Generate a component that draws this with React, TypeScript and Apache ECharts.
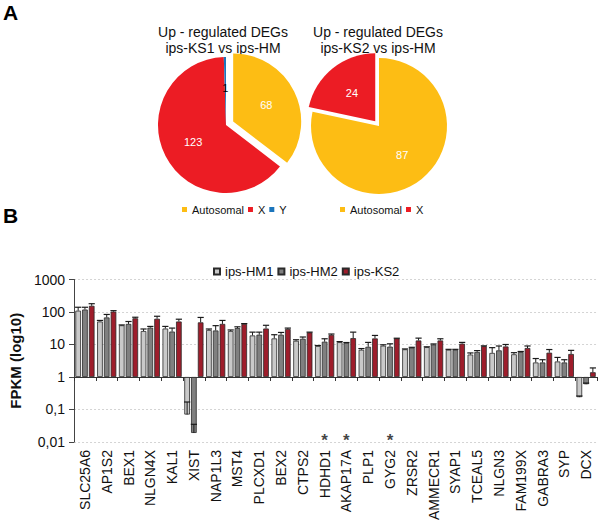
import React, { useEffect, useRef } from 'react';
import * as echarts from 'echarts';

const FONT = '"Liberation Sans", Arial, sans-serif';

// Panel A – pie data
const pie1Names = ['Autosomal', 'X', 'Y'];
const pie1Values = [68, 123, 1];
const pie2Names = ['Autosomal', 'X'];
const pie2Values = [87, 24];
const pieColors: Record<string, string> = { Autosomal: '#fdbd14', X: '#ec1c24', Y: '#1b75bc' };

// Panel B – bar data
const genes = [
  'SLC25A6', 'AP1S2', 'BEX1', 'NLGN4X', 'KAL1', 'XIST', 'NAP1L3', 'MST4', 'PLCXD1', 'BEX2',
  'CTPS2', 'HDHD1', 'AKAP17A', 'PLP1', 'GYG2', 'ZRSR2', 'AMMECR1', 'SYAP1', 'TCEAL5', 'NLGN3',
  'FAM199X', 'GABRA3', 'SYP', 'DCX',
];
const hm1 = [110, 51, 39, 26, 31, 0.07, 28, 26, 19, 15.4, 13, 9, 11.8, 6.9, 9.2, 7.1, 8.3, 6.9, 4.9, 5.5, 5.0, 2.8, 3.0, 0.24];
const hm1Upper = [140, 55, 40, 30, 36, 0.17, 30, 28, 24, 20, 14, 9.3, 12.3, 7.5, 9.8, 7.3, 8.5, 7.1, 5.5, 8, 5.6, 3.7, 4.0, 0.26];
const hm2 = [119, 68, 43, 33, 25, 0.019, 27, 32, 20, 20, 15, 12.2, 11.3, 8.5, 8.6, 8, 10, 6.9, 5.9, 6.6, 5.9, 2.8, 2.8, 0.6];
const hm2Upper = [140, 84, 51, 36, 32, 0.035, 38, 35, 24, 23.5, 17, 15, 11.5, 11.6, 10.5, 8.2, 10.4, 7.1, 6.5, 9, 6.1, 3.4, 3.4, 0.65];
const ks2 = [155, 103, 64, 62, 51, 48, 43, 43, 31, 30, 23.5, 19.8, 15.7, 15.4, 15.4, 13.3, 13.3, 10.6, 8.9, 8.7, 7.8, 5.6, 5.1, 1.4];
const ks2Upper = [180, 110, 69, 74, 60, 68, 55, 44, 39, 32, 24, 21, 24, 19, 15.6, 15.7, 15, 11.6, 9.1, 10, 9, 7, 6.6, 1.9];
const seriesNames = ['ips-HM1', 'ips-HM2', 'ips-KS2'];
const barColors = ['#c9c9c9', '#808080', '#9e1d2b'];
const starGenes = ['HDHD1', 'AKAP17A', 'GYG2'];
const starLevel = 0.011;

const CAT_GAP = 0.12;
const BAR_GAP = 0.2;

export default function App() {
  const ref = useRef<HTMLDivElement>(null);
  useEffect(() => {
    if (!ref.current) return;
    const chart = echarts.init(ref.current, null, { renderer: 'svg' });

    const values = [hm1, hm2, ks2];
    const uppers = [hm1Upper, hm2Upper, ks2Upper];
    const errData: number[][] = [];
    values.forEach((arr, s) => {
      arr.forEach((v, i) => errData.push([i, v, uppers[s][i], s]));
    });

    const pieSeries = (names: string[], vals: number[], center: number[], offset: number, selectedName: string) => ({
      type: 'pie',
      center,
      radius: 68,
      startAngle: 90,
      clockwise: true,
      selectedMode: 'multiple',
      selectedOffset: offset,
      emphasis: { disabled: true },
      label: {
        show: true,
        position: 'inside',
        formatter: '{c}',
        color: '#ffffff',
        fontSize: 11,
        fontFamily: FONT,
      },
      labelLine: { show: false },
      data: names.map((n, i) => ({
        name: n,
        value: vals[i],
        selected: n === selectedName,
        itemStyle: { color: pieColors[n] },
        label: n === 'Y' ? { color: '#000000' } : undefined,
      })),
    });

    const option: any = {
      animation: false,
      textStyle: { fontFamily: FONT },
      graphic: [
        { type: 'text', left: 3, top: 2, style: { text: 'A', font: `bold 21px ${FONT}`, fill: '#000' } },
        { type: 'text', left: 3, top: 205, style: { text: 'B', font: `bold 21px ${FONT}`, fill: '#000' } },
        {
          type: 'text', x: 223, y: 24,
          style: { text: 'Up - regulated DEGs\nips-KS1 vs ips-HM', font: `14px ${FONT}`, fill: '#111', textAlign: 'center', textVerticalAlign: 'top', lineHeight: 16 },
        },
        {
          type: 'text', x: 378, y: 24,
          style: { text: 'Up - regulated DEGs\nips-KS2 vs ips-HM', font: `14px ${FONT}`, fill: '#111', textAlign: 'center', textVerticalAlign: 'top', lineHeight: 16 },
        },
      ],
      legend: [
        {
          data: seriesNames, left: 213, top: 265, padding: 0, itemWidth: 6, itemHeight: 6, itemGap: 4,
          icon: 'rect', textStyle: { fontSize: 13, color: '#111', fontFamily: FONT }, selectedMode: false,
        },
        {
          data: pie1Names, left: 182, top: 204, padding: 0, itemWidth: 5, itemHeight: 5, itemGap: 4,
          icon: 'rect', textStyle: { fontSize: 11, color: '#111', fontFamily: FONT }, selectedMode: false,
        },
        {
          data: pie2Names, left: 340, top: 204, padding: 0, itemWidth: 5, itemHeight: 5, itemGap: 4,
          icon: 'rect', textStyle: { fontSize: 11, color: '#111', fontFamily: FONT }, selectedMode: false,
        },
      ],
      grid: { left: 69, right: 3, top: 279.5, bottom: 81, containLabel: false },
      xAxis: [
        {
          type: 'category',
          data: genes,
          position: 'bottom',
          axisLine: { show: false, onZero: false },
          axisTick: { show: false },
          axisLabel: { interval: 0, rotate: 90, fontSize: 14, color: '#111', margin: 8, fontFamily: FONT },
          splitLine: { show: false },
        },
        {
          type: 'category',
          data: genes,
          position: 'bottom',
          offset: -65,
          axisLine: { show: true, onZero: false, lineStyle: { color: '#333', width: 1 } },
          axisTick: { show: true, interval: 0, length: 4, lineStyle: { color: '#333' } },
          axisLabel: { show: false },
          splitLine: { show: false },
        },
      ],
      yAxis: {
        type: 'log',
        logBase: 10,
        min: 0.01,
        max: 1000,
        name: 'FPKM (log10)',
        nameLocation: 'middle',
        nameGap: 44,
        nameTextStyle: { fontSize: 15, fontWeight: 'bold', color: '#111', fontFamily: FONT },
        axisLine: { show: true, lineStyle: { color: '#444' } },
        axisTick: { show: true, length: 5, lineStyle: { color: '#444' } },
        axisLabel: {
          fontSize: 14, color: '#111', margin: 9, fontFamily: FONT,
          formatter: (v: number) => (v >= 1 ? String(Math.round(v)) : v.toPrecision(1).replace('.', ',')),
        },
        splitLine: { show: true, lineStyle: { color: '#d4d4d4', type: [2, 2] } },
      },
      series: [
        pieSeries(pie1Names, pie1Values, [226, 125], 8, 'Autosomal'),
        pieSeries(pie2Names, pie2Values, [379, 126], 6, 'X'),
        ...seriesNames.map((n, s) => ({
          type: 'bar',
          name: n,
          data: values[s],
          xAxisIndex: 0,
          barCategoryGap: `${CAT_GAP * 100}%`,
          barGap: `${BAR_GAP * 100}%`,
          itemStyle: { color: barColors[s], borderColor: '#2a2a2a', borderWidth: 0.8 },
          emphasis: { disabled: true },
        })),
        {
          type: 'custom',
          name: 'err',
          xAxisIndex: 0,
          z: 5,
          encode: { x: 0, y: [1, 2] },
          data: errData,
          renderItem: (params: any, api: any) => {
            const i = api.value(0);
            const v = api.value(1);
            const up = api.value(2);
            const s = api.value(3);
            const a = api.coord([i, v]);
            const b = api.coord([i, up]);
            const band = Math.abs(api.coord([1, 1])[0] - api.coord([0, 1])[0]);
            const bw = (band * (1 - CAT_GAP)) / (3 + 2 * BAR_GAP);
            const x = a[0] + (s - 1) * (1 + BAR_GAP) * bw;
            const h = bw * 0.55;
            return {
              type: 'group',
              children: [
                { type: 'line', shape: { x1: x, y1: a[1], x2: x, y2: b[1] }, style: { stroke: '#1a1a1a', lineWidth: 1 } },
                { type: 'line', shape: { x1: x - h, y1: b[1], x2: x + h, y2: b[1] }, style: { stroke: '#1a1a1a', lineWidth: 1.2 } },
              ],
            };
          },
        },
        {
          type: 'scatter',
          name: 'sig',
          xAxisIndex: 0,
          symbolSize: 1,
          itemStyle: { color: 'rgba(0,0,0,0)' },
          data: starGenes.map((g) => [g, starLevel]),
          label: { show: true, position: 'inside', formatter: '*', fontSize: 17, fontWeight: 'bold', color: '#111', fontFamily: FONT },
          emphasis: { disabled: true },
        },
      ],
    };

    chart.setOption(option);
    return () => chart.dispose();
  }, []);

  return <div ref={ref} style={{ position: 'fixed', left: 0, top: 0, width: 600, height: 523, background: '#fff' }} />;
}
